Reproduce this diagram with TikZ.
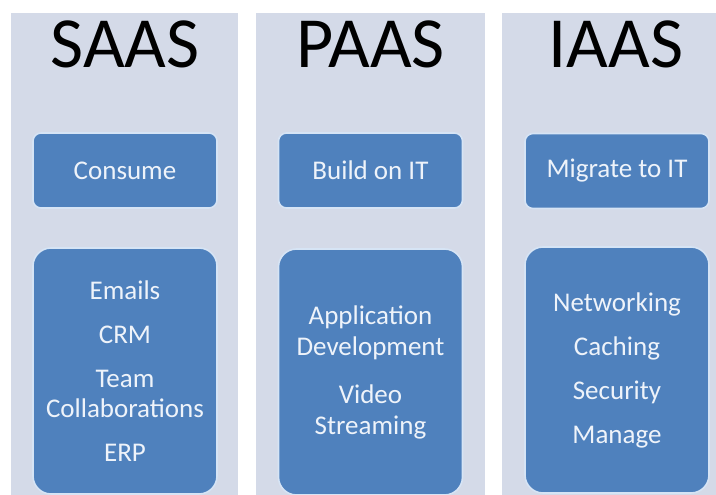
\documentclass[tikz,border=0pt]{standalone}
\usepackage{fontspec}
\setmainfont{Carlito}
\usetikzlibrary{positioning}
\definecolor{panelbg}{RGB}{212,218,232}
\definecolor{boxblue}{RGB}{79,129,189}
\definecolor{boxline}{RGB}{214,228,245}
\definecolor{boxtext}{RGB}{238,243,250}

\begin{document}
\begin{tikzpicture}[x=1pt,y=-1pt,
 title/.style={anchor=base,inner sep=0pt,font=\fontsize{72}{72}\selectfont},
 tagbox/.style={draw=boxline,line width=1.6pt,fill=boxblue,rounded corners=8pt,text=boxtext,
  minimum width=184pt,minimum height=75pt,inner sep=3pt,font=\fontsize{27}{30}\selectfont},
 listbox/.style={tagbox,rounded corners=18pt,minimum height=246pt,align=center}]
\useasboundingbox (0,0) rectangle (716,495);
\fill[white] (0,0) rectangle (716,495);
% the three columns
\foreach \l/\r in {11/238,256/485,502/716}{
 \fill[panelbg] (\l,13) rectangle (\r,495);
}
% SAAS
\node[title] (saas) at (125,68) {SAAS};
\node[tagbox] (consume) at (125,170.5) {Consume};
\node[listbox] (saaslist) at (125,371) {Emails\\[14pt]CRM\\[14pt]Team\\Collaborations\\[14pt]ERP};
% PAAS
\node[title] (paas) at (370.5,68) {PAAS};
\node[tagbox] (build) at (370.5,170.5) {Build on IT};
\node[listbox,font=\fontsize{27}{31}\selectfont] (paaslist) at (370.5,372) {Application\\Development\\[17pt]Video\\Streaming};
% IAAS
\node[title] (iaas) at (616,68) {IAAS};
\node[tagbox] (migrate) at (617,171) {Migrate to IT};
\node[listbox] (iaaslist) at (617,370) {Networking\\[14pt]Caching\\[14pt]Security\\[14pt]Manage};
\end{tikzpicture}
\end{document}
